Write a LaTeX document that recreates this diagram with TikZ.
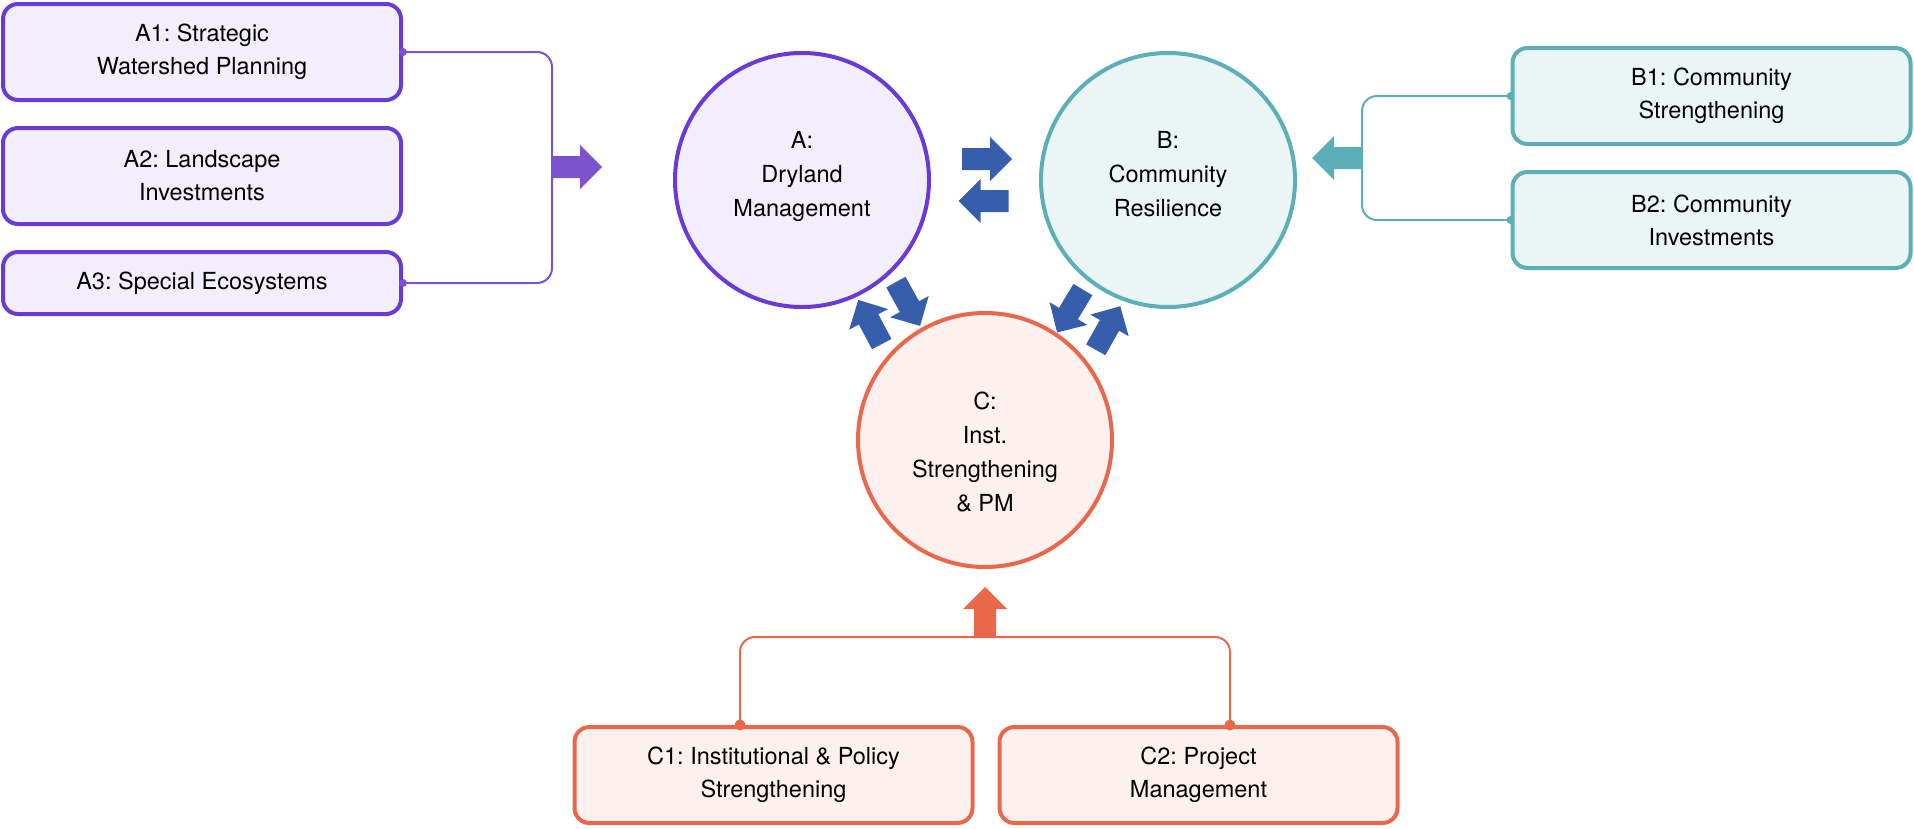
\documentclass[tikz,border=0pt]{standalone}
\usepackage{fontspec}
\setmainfont{TeX Gyre Heros}
\usetikzlibrary{calc}
\definecolor{apur}{HTML}{6A3AD6}
\definecolor{apurl}{HTML}{7D52D0}
\definecolor{afill}{HTML}{F3EEFB}
\definecolor{bteal}{HTML}{5BAFB9}
\definecolor{bfill}{HTML}{ECF5F6}
\definecolor{corg}{HTML}{EB674A}
\definecolor{cfill}{HTML}{FDF1EF}
\definecolor{ablue}{HTML}{375DAD}
\tikzset{
  txt/.style={font=\frenchspacing\fontsize{23.5}{33}\selectfont, align=center, text=black},
  ctxt/.style={font=\frenchspacing\fontsize{23.5}{34}\selectfont, align=center, text=black, inner sep=0pt, anchor=north},
  sbox/.style={txt, rectangle, rounded corners=15pt, line width=4pt, minimum width=398pt, minimum height=96pt, inner sep=0pt},
  sboxone/.style={sbox, minimum height=62pt},
  bigc/.style={circle, line width=4pt, minimum size=254pt, inner sep=0pt},
  conn/.style={line width=2pt, rounded corners=15pt},
  barrow/.pic={\fill[#1] (-25,-11) -- (3,-11) -- (3,-22) -- (25,0) -- (3,22) -- (3,11) -- (-25,11) -- cycle;}
}
\begin{document}
\begin{tikzpicture}[x=1pt,y=-1pt]
\useasboundingbox (0,0) rectangle (1914,828);
% circles
\node[bigc, draw=apur, fill=afill] (A) at (802,180) {};
\node[bigc, draw=bteal, fill=bfill] (B) at (1168,180) {};
\node[bigc, draw=corg, fill=cfill] (C) at (985,440) {};
\node[ctxt] (At) at ($(A.center)+(0,-49)$) {A:\\Dryland\\Management};
\node[ctxt] (Bt) at ($(B.center)+(0,-49)$) {B:\\Community\\Resilience};
\node[ctxt] (Ct) at ($(C.center)+(0,-48)$) {C:\\Inst.\\Strengthening\\\& PM};
% coordinates for brackets
\coordinate (abr) at (552,167);
\coordinate (bbr) at (1362,158);
\coordinate (cbr) at (985,637);
\coordinate (c1x) at (740,0);
\coordinate (c2x) at (1230,0);
% connectors (drawn before boxes)
\draw[conn, apurl] (203,52) -| (abr) |- (203,283);
\draw[conn, bteal] (1711,96) -| (bbr) |- (1711,220);
\draw[conn, corg] (740,775) |- (cbr) -| (1230,775);
% boxes
\node[sbox, draw=apur, fill=afill] (A1) at (202,52) {A1: Strategic\\Watershed Planning};
\node[sbox, draw=apur, fill=afill] (A2) at (202,176) {A2: Landscape\\Investments};
\node[sboxone, draw=apur, fill=afill] (A3) at (202,283) {A3: Special Ecosystems};
\node[sbox, draw=bteal, fill=bfill] (B1) at (1711.5,96) {B1: Community\\Strengthening};
\node[sbox, draw=bteal, fill=bfill] (B2) at (1711.5,220) {B2: Community\\Investments};
\node[sbox, draw=corg, fill=cfill] (C1) at (773.5,775) {C1: Institutional \& Policy\\Strengthening};
\node[sbox, draw=corg, fill=cfill] (C2) at (1198.5,775) {C2: Project\\Management};
% dots
\fill[apurl] (A1.east) circle (4);
\fill[apurl] (A3.east) circle (4);
\fill[bteal] (B1.west) circle (4);
\fill[bteal] (B2.west) circle (4);
\fill[corg] (C1.north -| c1x) circle (5.5);
\fill[corg] (C2.north -| c2x) circle (5.5);
% group arrows
\pic at ($(abr)+(25,0)$) {barrow=apurl};
\pic[rotate=180] at ($(bbr)+(-25,0)$) {barrow=bteal};
\pic[rotate=90] at ($(cbr)+(0,-25)$) {barrow=corg};
% interaction arrows
\pic at (987,159) {barrow=ablue};
\pic[rotate=180] at (983.5,201) {barrow=ablue};
\pic[rotate=-61] at (908,304) {barrow=ablue};
\pic[rotate=118] at (870,322) {barrow=ablue};
\pic[rotate=-121] at (1070,311) {barrow=ablue};
\pic[rotate=60.6] at (1108,328) {barrow=ablue};
\end{tikzpicture}
\end{document}
